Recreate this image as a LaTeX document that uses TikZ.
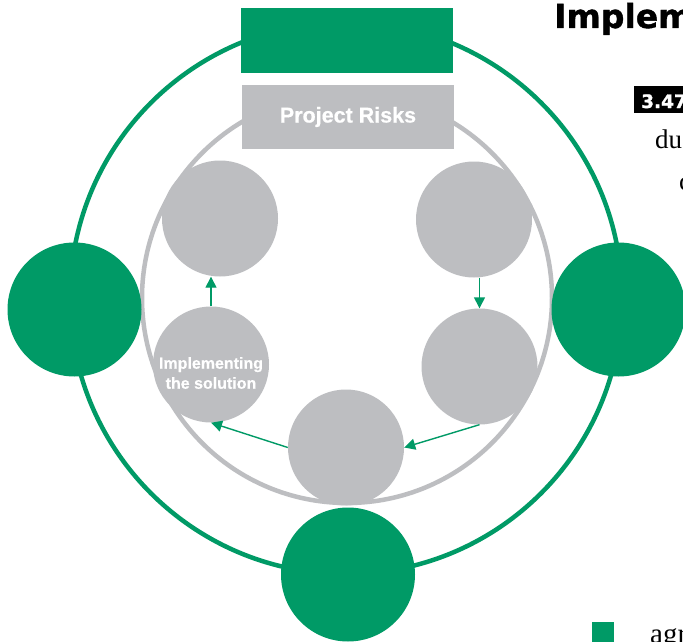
\documentclass[tikz,border=0pt]{standalone}
\usepackage{fontspec}
\setmainfont{Liberation Serif}
\newfontfamily\sansb{Liberation Sans}[FakeBold=0.6]
\newfontfamily\heavy{DejaVu Sans}[FakeBold=1.2]
\usetikzlibrary{arrows.meta}
\definecolor{myGreen}{RGB}{0,154,102}
\definecolor{myGray}{RGB}{189,190,193}
\tikzset{
  gcirc/.style={circle, fill=myGreen, minimum size=134pt, inner sep=0pt},
  scirc/.style={circle, fill=myGray, minimum size=116pt, inner sep=0pt},
  arr/.style={draw=myGreen, line width=1.4pt, -{Triangle[length=11pt,width=11pt]}},
  ring/.style={line width=4.5pt},
  bodytext/.style={anchor=base west, inner sep=0pt, font=\fontsize{27}{30}\selectfont},
}
\begin{document}
\begin{tikzpicture}[x=1pt,y=-1pt]
\useasboundingbox (0,0) rectangle (683,642);
\clip (0,0) rectangle (683,642);
\fill[white] (0,0) rectangle (683,642);
% rings
\draw[ring, myGreen] (346,298) circle[radius=276];
\draw[ring, myGray] (347,298) circle[radius=205];
% small gray circles
\node[scirc] (tl) at (220,218.5) {};
\node[scirc] (tr) at (474,219.5) {};
\node[scirc] (rc) at (479.5,366.5) {};
\node[scirc] (bc) at (346,447.5) {};
\node[scirc] (lc) at (211,364.5) {};
\node[text=white, align=center, font=\sansb\bfseries\fontsize{16}{20}\selectfont] (lclabel) at (211,373) {Implementing\\the solution};
% arrows
\draw[arr] (lc.north) -- (lc.north |- tl.south);
\draw[arr] (rc.north |- tr.south) -- (rc.north);
\draw[arr] (rc.south) -- (bc.east);
\draw[arr] (bc.west) -- (lc.south);
% rectangles
\node[fill=myGreen, minimum width=212pt, minimum height=65pt, inner sep=0pt] (top) at (347,40.5) {};
\node[fill=myGray, minimum width=212pt, minimum height=64pt, inner sep=0pt, text=white, font=\sansb\bfseries\fontsize{21.5}{24}\selectfont] (risks) at (348,117) {Project Risks};
% big green circles
\node[gcirc] (lg) at (74.5,309.5) {};
\node[gcirc] (rg) at (618.5,309.5) {};
\node[gcirc] (bg) at (348,574.5) {};
% page text at right
\node[anchor=base west, inner sep=0pt, font=\heavy\bfseries\fontsize{33}{36}\selectfont] (heading) at (554,28) {Implem};
\fill[black] (634,86) rectangle (690,113);
\node[anchor=base west, inner sep=0pt, text=white, font=\heavy\bfseries\fontsize{18.5}{20}\selectfont] (num) at (641,108) {3.47};
\node[bodytext] (du) at (655,148) {du};
\node[bodytext] (cc) at (679,190) {c};
\fill[myGreen] (592,622) rectangle (614,643);
\node[bodytext, font=\fontsize{29}{32}\selectfont] (agr) at (650,643) {agr};
\end{tikzpicture}
\end{document}
